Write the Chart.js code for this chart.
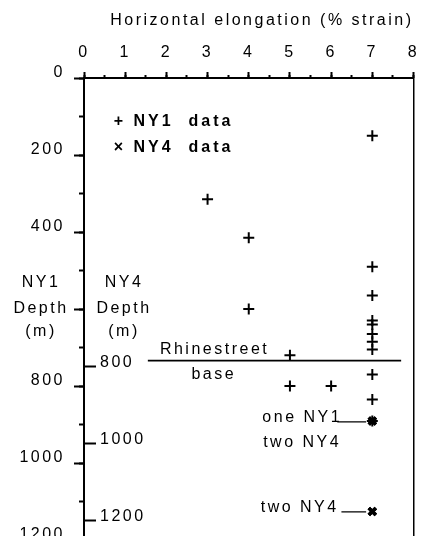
<!DOCTYPE html>
<html><head><meta charset="utf-8">
<script src="https://cdn.jsdelivr.net/npm/chart.js@4/dist/chart.umd.min.js"></script>
<style>html,body{margin:0;padding:0;overflow:hidden;background:#fff}#wrap{position:relative;width:422px;height:560px}</style>
</head><body><div id="wrap"><canvas id="c"></canvas></div>
<script>
// ---- data ----
const strainTicks = [0,1,2,3,4,5,6,7,8];
const strainMinorTicks = [0,0.5,1,1.5,2,2.5,3,3.5,4,4.5,5,5.5,6,6.5,7,7.5,8];
const ny1DepthTicks = [0,200,400,600,800,1000,1200];
const ny1DepthTickLabels = ['0','200','400','','800','1000','1200'];
const ny1MinorTicks = [0,100,200,300,400,500,600,700,800,900,1000,1100,1200];
const ny4DepthTicks = [800,1000,1200];
const ny4DepthTickLabels = ['800','1000','1200'];

const ny1Strain = [7,3,4,7,7,4,7,7,7,7,7,5,7,5,6,7,7];
const ny1Depth  = [150,315,415,490,565,600,630,640,665,685,705,720,770,800,800,835,891];
const ny4Strain = [7,7,7,7];
const ny4Depth  = [941,941,1176,1176]; // on NY4 depth scale

const rhinestreetStrain = [1.55,7.7];
const rhinestreetDepth  = [734,734];
const leader1Strain = [6.15,6.85];
const leader1Depth  = [893,893];
const leader2Strain = [6.25,6.85];
const leader2Depth  = [1127,1127];

const xTitle = 'Horizontal elongation (% strain)';
const legendTexts = ['+ NY1  data','\u00d7 NY4  data'];
const legendDepths = [114,182];
const legendStrain = 0.72;
const annotations = [
  {text:'Rhinestreet', x:3.17, y:706, align:'center'},
  {text:'base', x:3.15, y:771, align:'center'},
  {text:'one NY1', x:4.33, y:883, align:'left'},
  {text:'two NY4', x:4.35, y:948, align:'left'},
  {text:'two NY4', x:4.29, y:1116, align:'left'}
];
const ny1Caption = ['NY1','Depth','(m)'];
const ny4Caption = ['NY4','Depth','(m)'];
const captionDepth = 600;

// ---- chart ----
const FONT = "'Liberation Sans', Arial, Helvetica, sans-serif";
const SPACING = '2.5px';
Chart.defaults.font.family = FONT;
Chart.defaults.font.size = 16;
Chart.defaults.color = '#000';

const pts = (xs, ys) => xs.map((x,i)=>({x:x, y:ys[i]}));
const setTicks = list => scale => { scale.ticks = list.map(v=>({value:v})); };
const fit = (w, h) => s => {
  if (w !== undefined) s.width = w;
  if (h !== undefined) s.height = h;
  s.paddingLeft = s.paddingRight = s.paddingTop = s.paddingBottom = 0;
};

const spacing = {
  id:'spacing',
  beforeUpdate(c){ c.ctx.letterSpacing = SPACING; },
  beforeLayout(c){ c.ctx.letterSpacing = SPACING; },
  beforeDraw(c){ c.ctx.letterSpacing = SPACING; }
};

const textPlugin = {
  id:'texts',
  afterDraw(c){
    const ctx = c.ctx, sx = c.scales.x, sy = c.scales.y, ca = c.chartArea;
    ctx.save();
    ctx.letterSpacing = SPACING;
    ctx.fillStyle = '#000';
    ctx.textBaseline = 'middle';
    ctx.font = '16px ' + FONT;
    annotations.forEach(a => {
      ctx.textAlign = a.align;
      ctx.fillText(a.text, sx.getPixelForValue(a.x), sy.getPixelForValue(a.y));
    });
    const cy = sy.getPixelForValue(captionDepth);
    ctx.textAlign = 'center';
    [-26,0,23].forEach((d,i) => {
      ctx.fillText(ny1Caption[i], ca.left - 43, cy + d);
      ctx.fillText(ny4Caption[i], ca.left + 40, cy + d);
    });
    ctx.font = 'bold 16px ' + FONT;
    ctx.letterSpacing = '3px';
    ctx.textAlign = 'left';
    legendTexts.forEach((t,i) => {
      ctx.fillText(t, sx.getPixelForValue(legendStrain), sy.getPixelForValue(legendDepths[i]));
    });
    ctx.restore();
  }
};

const noGrid = {drawOnChartArea:false, color:'#000', tickColor:'#000', tickWidth:2};

new Chart(document.getElementById('c'), {
  type:'scatter',
  data:{datasets:[
    {label:'NY1 data', data:pts(ny1Strain, ny1Depth), pointStyle:'cross', pointRadius:5.5, pointBorderWidth:2,
     borderColor:'#000', backgroundColor:'#000', xAxisID:'x', yAxisID:'y'},
    {label:'NY4 data', data:pts(ny4Strain, ny4Depth), pointStyle:'crossRot', pointRadius:5, pointBorderWidth:3.5,
     borderColor:'#000', backgroundColor:'#000', xAxisID:'x', yAxisID:'y2'},
    {label:'Rhinestreet base', data:pts(rhinestreetStrain, rhinestreetDepth), showLine:true, pointRadius:0,
     borderColor:'#000', borderWidth:1.8, xAxisID:'x', yAxisID:'y'},
    {label:'leader1', data:pts(leader1Strain, leader1Depth), showLine:true, pointRadius:0,
     borderColor:'#000', borderWidth:1.2, xAxisID:'x', yAxisID:'y'},
    {label:'leader2', data:pts(leader2Strain, leader2Depth), showLine:true, pointRadius:0,
     borderColor:'#000', borderWidth:1.2, xAxisID:'x', yAxisID:'y'}
  ]},
  options:{
    responsive:true, maintainAspectRatio:false, animation:false,
    layout:{padding:{left:0, top:0, right:7, bottom:20}},
    plugins:{legend:{display:false}, tooltip:{enabled:false}},
    scales:{
      x:{type:'linear', position:'top', weight:10, min:0, max:8,
         afterBuildTicks:setTicks(strainTicks),
         afterFit:fit(undefined, 78),
         grid:Object.assign({}, noGrid, {tickLength:6}),
         border:{display:true, color:'#000', width:2},
         ticks:{padding:10, maxRotation:0, font:{size:16}},
         title:{display:true, text:xTitle, align:'end', font:{size:16}, padding:{top:11,bottom:0}}},
      xm:{type:'linear', position:'top', weight:0, min:0, max:8,
         afterBuildTicks:setTicks(strainMinorTicks),
         afterFit:fit(undefined, 0),
         grid:Object.assign({}, noGrid, {tickLength:3}),
         border:{display:false},
         ticks:{display:false}},
      y:{type:'linear', position:'left', weight:10, min:0, max:1200, reverse:true,
         afterBuildTicks:setTicks(ny1DepthTicks),
         afterFit:fit(84),
         grid:Object.assign({}, noGrid, {tickLength:10}),
         border:{display:true, color:'#000', width:2},
         ticks:{padding:9, font:{size:16, lineHeight:0.62},
                callback:(v,i)=>[ny1DepthTickLabels[i], '']}},
      ym:{type:'linear', position:'left', weight:1, min:0, max:1200, reverse:true,
         afterBuildTicks:setTicks(ny1MinorTicks),
         afterFit:fit(0),
         grid:Object.assign({}, noGrid, {tickLength:5}),
         border:{display:false},
         ticks:{display:false}},
      y2:{type:'linear', position:'left', weight:0, min:50, max:1250, reverse:true,
         afterBuildTicks:setTicks(ny4DepthTicks),
         afterFit:fit(0),
         grid:Object.assign({}, noGrid, {tickLength:-12}),
         border:{display:false},
         ticks:{mirror:true, padding:16, font:{size:16, lineHeight:0.5},
                callback:(v,i)=>[ny4DepthTickLabels[i], '']}},
      yR:{type:'linear', position:'right', min:0, max:1200, reverse:true,
         afterFit:fit(0),
         grid:{drawOnChartArea:false, drawTicks:false},
         border:{display:true, color:'#000', width:1.5},
         ticks:{display:false}}
    }
  },
  plugins:[spacing, textPlugin]
});
</script>
</body></html>
